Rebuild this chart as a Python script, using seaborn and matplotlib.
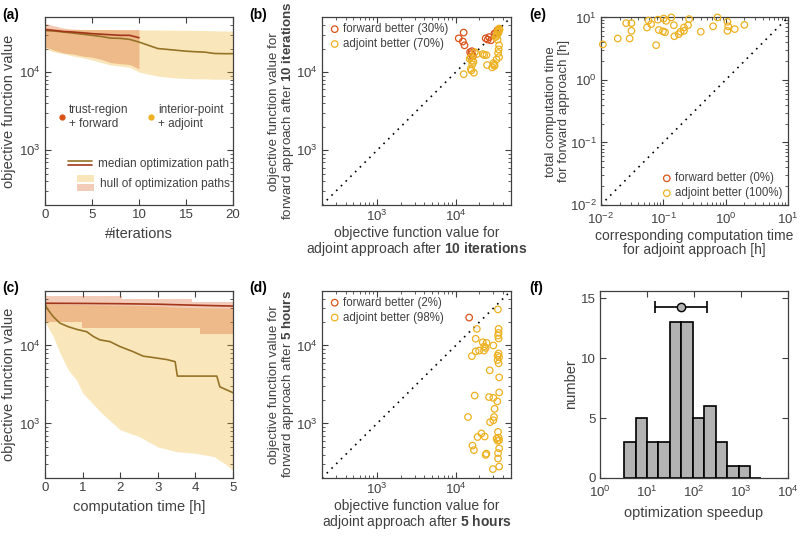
import numpy as np
import pandas as pd
import matplotlib
matplotlib.use("Agg")
import matplotlib.pyplot as plt
import seaborn as sns
from matplotlib.lines import Line2D
from matplotlib.patches import Patch, Rectangle
from matplotlib.legend_handler import HandlerBase
from matplotlib.ticker import NullLocator

sns.set_theme(style="ticks")
plt.rcParams['font.family'] = ['Liberation Sans', 'DejaVu Sans']
plt.rcParams['mathtext.fontset'] = 'custom'
plt.rcParams['mathtext.rm'] = 'Liberation Sans'
plt.rcParams['mathtext.it'] = 'Liberation Sans:italic'
plt.rcParams['mathtext.bf'] = 'Liberation Sans:bold'
GREY = '#404040'
plt.rcParams['text.color'] = GREY
plt.rcParams['axes.labelcolor'] = GREY

FWD = '#D95319'
ADJ = '#EDB120'
FWD_DARK = '#A3361A'
ADJ_DARK = '#957226'

# --- (a) optimisation paths vs iterations ---
iters_adj = list(range(21))
adj_median_it = [34000, 33500, 32500, 31500, 30500, 29500, 28500, 27200, 27000, 26200, 24200,
                 22000, 20000, 19500, 19000, 18500, 18200, 18000, 17300, 17200, 17200]
adj_hull_hi_it = [37000, 36000, 35000, 35000, 35000, 35000, 35000, 35000, 34800, 34800, 34600,
                  34500, 34500, 34400, 34300, 34200, 34000, 34000, 33800, 33500, 33500]
adj_hull_lo_it = [20000, 18000, 17200, 16000, 15200, 14300, 13200, 12300, 11900, 11500, 10000,
                  9400, 8900, 8600, 8400, 8300, 8200, 8200, 8100, 8100, 8100]
iters_fwd = list(range(11))
fwd_median_it = [35000, 34000, 33000, 32500, 31800, 31000, 30500, 30000, 29500, 29500, 27500]
fwd_hull_hi_it = [42000, 39000, 36500, 35500, 35000, 35000, 35000, 35000, 35000, 35000, 35000]
fwd_hull_lo_it = [21000, 19000, 17500, 17000, 16000, 15500, 14500, 13200, 12800, 12500, 11000]

# --- (c) optimisation paths vs computation time ---
t_adj_med = [0, 0.05, 0.22, 0.40, 0.62, 0.84, 1.11, 1.29, 1.46, 1.73, 1.99, 2.35, 2.61, 2.88,
             3.24, 3.46, 3.52, 4.57, 4.65, 5.0]
adj_median_t = [34800, 30000, 23400, 19300, 17400, 16100, 15000, 13000, 11800, 11200, 9700, 8300,
                7300, 7000, 6600, 6200, 4050, 4050, 2950, 2480]
t_adj_hull = [0, 0.02, 0.1, 0.22, 0.4, 0.62, 0.84, 1.0, 1.5, 2.0, 2.5, 3.0, 3.5, 4.0, 4.5, 4.8, 5.0]
adj_hull_hi_t = [34500, 34500, 34400, 34200, 34000, 33800, 33600, 33400, 33200, 33000, 32500, 32000,
                 31000, 30500, 30200, 30000, 30000]
adj_hull_lo_t = [20000, 19500, 16500, 13000, 8000, 4850, 3600, 2470, 1370, 830, 680, 500, 435, 415,
                 375, 300, 250]
t_fwd_hull = [0, 0.98, 0.98, 2.05, 2.05, 3.9, 3.9, 4.12, 4.12, 5.0]
fwd_hull_hi_t = [43000, 43000, 43000, 43000, 39000, 39000, 36000, 36000, 36000, 36000]
fwd_hull_lo_t = [20200, 20200, 16600, 16600, 16600, 16600, 16600, 16600, 13900, 13900]
t_fwd_med = [0, 1, 2, 3, 4, 5]
fwd_median_t = [34800, 34600, 34300, 33800, 32800, 32000]

# --- (b) after 10 iterations: x = adjoint, y = forward ---
b_fwd_x = [12600, 10900, 12300, 12900, 15200, 15800, 16500, 16000, 24000, 25500, 26500, 28000,
           31000, 32500, 34000]
b_fwd_y = [32000, 27000, 24600, 22000, 18000, 17000, 16000, 18500, 27000, 26000, 28000, 25500,
           31000, 32000, 34500]
b_adj_x = [34500, 35000, 33500, 32000, 34000, 35500, 35000, 34500, 35500, 33000, 31000, 24500,
           25000, 15500, 16200, 15800, 17000, 12600, 15000, 23000, 22000, 30000, 31000, 29000,
           36000, 35500, 34000, 33000, 17500, 18500, 16000, 16800, 15500]
b_adj_y = [34000, 32000, 30000, 28000, 26000, 22000, 19500, 17500, 15500, 14500, 12500, 16500,
           12300, 15500, 12500, 10500, 9800, 9400, 14800, 16500, 17000, 13000, 12000, 11500,
           35000, 36000, 33000, 29000, 18000, 17000, 14000, 13500, 11000]
b_labels = ['forward better (30%)', 'adjoint better (70%)']

# --- (d) after 5 hours ---
d_fwd_x = [14800]
d_fwd_y = [22800]
d_adj_x = [34300, 18500, 17900, 35000, 35000, 34500, 35000, 24600, 24000, 30000, 19800, 17900,
           16000, 22800, 34000, 35000, 35500, 34000, 35000, 27000, 35600, 17400, 26500, 30000,
           33700, 35600, 31100, 14300, 30600, 27300, 30000, 34400, 21200, 18900, 23300, 33000,
           35000, 34000, 35500, 16300, 17000, 35600, 34400, 34400, 24500, 24000, 35600, 29600,
           22000, 23000]
d_adj_y = [29000, 16300, 12200, 16300, 14500, 13400, 12300, 10800, 9300, 10000, 8600, 8400,
           7300, 8600, 7400, 7900, 7100, 6500, 5900, 4800, 3900, 2280, 2180, 2130, 1920, 2500,
           1540, 1210, 1210, 1040, 1100, 780, 745, 670, 680, 640, 660, 600, 610, 520, 455, 480,
           417, 355, 410, 395, 280, 260, 11000, 9700]
d_labels = ['forward better (2%)', 'adjoint better (98%)']

# --- (e) computation times ---
e_fwd_x = []
e_fwd_y = []
e_adj_x = [0.0108, 0.0187, 0.029, 0.0255, 0.031, 0.031, 0.055, 0.058, 0.064, 0.082, 0.102, 0.112,
           0.135, 0.085, 0.099, 0.077, 0.148, 0.151, 0.177, 0.19, 0.215, 0.215, 0.25, 0.26, 0.40,
           0.63, 0.74, 1.07, 1.1, 1.07, 1.4, 2.0, 0.107]
e_adj_y = [3.7, 4.6, 4.6, 8.1, 8.1, 6.1, 6.9, 8.9, 7.8, 9.2, 9.6, 8.8, 10.0, 6.3, 6.0, 3.6, 7.5,
           5.0, 5.4, 5.9, 6.1, 6.9, 7.5, 9.4, 5.9, 7.2, 10.0, 8.5, 7.2, 6.1, 6.5, 7.6, 5.8]
e_labels = ['forward better (0%)', 'adjoint better (100%)']

# --- (f) speedup histogram ---
speedup_edges = [3.3, 5.8, 10, 17.5, 30.5, 53.5, 94, 165, 290, 505, 885, 1550, 2700]
speedup_counts = [3, 5, 3, 3, 13, 13, 5, 6, 3, 1, 1, 0]
speedup_median = 52
speedup_lo = 14.7
speedup_hi = 190
speedup_marker_y = 14.3

OBJ_LIM = [2e2, 5e4]
TIME_LIM = [1e-2, 1e1]


class HandlerStack(HandlerBase):
    # draws the handles of a tuple on top of each other
    def create_artists(self, legend, orig_handle, xdescent, ydescent, width, height, fontsize, trans):
        out = []
        n = len(orig_handle)
        gap = 0.15 * height
        h_each = (height - gap * (n - 1)) / n
        for i, h in enumerate(orig_handle):
            y0 = -ydescent + height - (i + 1) * h_each - i * gap
            if isinstance(h, Line2D):
                art = Line2D([-xdescent, -xdescent + width], [y0 + h_each / 2] * 2,
                             color=h.get_color(), lw=h.get_linewidth())
            else:
                art = Rectangle((-xdescent, y0), width, h_each, facecolor=h.get_facecolor(),
                                edgecolor='none')
            art.set_transform(trans)
            out.append(art)
        return out


def style_axis(ax):
    ax.tick_params(which='both', direction='in', top=True, right=True, colors=GREY, labelsize=9.5, pad=3)
    ax.tick_params(which='major', length=4, width=0.8)
    ax.tick_params(which='minor', length=2, width=0.6)
    for sp in ax.spines.values():
        sp.set_color(GREY)
        sp.set_linewidth(0.9)


def two_line_labels(ax, xlab, ylab):
    ax.set_xlabel(xlab, fontsize=10, linespacing=1.05, labelpad=1)
    ax.set_ylabel(ylab, fontsize=9.6, linespacing=1.05, labelpad=0)


def scatter_panel(ax, fx, fy, ax_x, ax_y, labels, lims, loc):
    ax.set_xscale('log')
    ax.set_yscale('log')
    ax.plot(lims, lims, color='black', lw=1.2, ls=(0, (1, 3)))
    for xs, ys, col, lab in [(fx, fy, FWD, labels[0]), (ax_x, ax_y, ADJ, labels[1])]:
        if len(xs):
            sns.scatterplot(x=xs, y=ys, ax=ax, facecolor='none', edgecolor=col, linewidth=0.9,
                            s=22, label=lab, clip_on=False, zorder=3)
        else:
            ax.scatter([], [], facecolor='none', edgecolor=col, linewidth=0.9, s=22, label=lab)
    ax.set_xlim(lims)
    ax.set_ylim(lims)
    ax.legend(loc=loc, frameon=False, fontsize=8.3, handletextpad=0.1, borderpad=0.3,
              borderaxespad=0.2, labelspacing=0.25, handlelength=1.2)
    style_axis(ax)


fig = plt.figure(figsize=(8, 5.39), dpi=100)
top_b, bot_b = 0.6197, 0.1132
h = 0.348
ax_a = fig.add_axes([0.05625, top_b, 0.235, h])
ax_b = fig.add_axes([0.4025, top_b, 0.236, h])
ax_e = fig.add_axes([0.751, top_b, 0.234, h])
ax_c = fig.add_axes([0.05625, bot_b, 0.235, 0.347])
ax_d = fig.add_axes([0.4025, bot_b, 0.236, 0.347])
ax_f = fig.add_axes([0.75, bot_b, 0.235, 0.347])

# (a)
ax = ax_a
ax.set_yscale('log')
ax.fill_between(iters_adj, adj_hull_lo_it, adj_hull_hi_it, color=ADJ, alpha=0.3, lw=0)
ax.fill_between(iters_fwd, fwd_hull_lo_it, fwd_hull_hi_it, color=FWD, alpha=0.3, lw=0)
sns.lineplot(x=iters_adj, y=adj_median_it, ax=ax, color=ADJ_DARK, lw=1.2, estimator=None, sort=False)
sns.lineplot(x=iters_fwd, y=fwd_median_it, ax=ax, color=FWD_DARK, lw=1.2, estimator=None, sort=False)
ax.set_xlim(0, 20)
ax.set_ylim(OBJ_LIM)
ax.set_xticks([0, 5, 10, 15, 20])
ax.set_xlabel('#iterations', fontsize=10.5)
ax.set_ylabel('objective function value', fontsize=10.5, labelpad=2)
style_axis(ax)

dot_f = Line2D([], [], marker='o', ls='none', color=FWD, markersize=3.5)
dot_a = Line2D([], [], marker='o', ls='none', color=ADJ, markersize=3.5)
leg1 = ax.legend([dot_f, dot_a], ['trust-region\n+ forward', 'interior-point\n+ adjoint'],
                 ncol=2, loc='center left', bbox_to_anchor=(0.07, 0.47), frameon=False,
                 fontsize=8.5, handlelength=0.6, handletextpad=0.3, columnspacing=1.6,
                 borderpad=0, borderaxespad=0)
ax.add_artist(leg1)
med_handle = (Line2D([], [], color=ADJ_DARK, lw=1.2), Line2D([], [], color=FWD_DARK, lw=1.2))
leg2 = ax.legend([med_handle], ['median optimization path'], handler_map={tuple: HandlerStack()},
                 loc='center left', bbox_to_anchor=(0.124, 0.218), frameon=False, fontsize=8.5,
                 handlelength=2.0, handleheight=0.6, handletextpad=0.5, borderpad=0, borderaxespad=0)
ax.add_artist(leg2)
hull_handle = (Patch(facecolor=ADJ, alpha=0.3), Patch(facecolor=FWD, alpha=0.3))
ax.legend([hull_handle], ['hull of optimization paths'], handler_map={tuple: HandlerStack()},
          loc='center left', bbox_to_anchor=(0.172, 0.117), frameon=False, fontsize=8.5,
          handlelength=1.4, handleheight=1.8, handletextpad=0.5, borderpad=0, borderaxespad=0)

# (c)
ax = ax_c
ax.set_yscale('log')
ax.fill_between(t_adj_hull, adj_hull_lo_t, adj_hull_hi_t, color=ADJ, alpha=0.3, lw=0)
ax.fill_between(t_fwd_hull, fwd_hull_lo_t, fwd_hull_hi_t, color=FWD, alpha=0.3, lw=0)
sns.lineplot(x=t_adj_med, y=adj_median_t, ax=ax, color=ADJ_DARK, lw=1.2, estimator=None, sort=False)
sns.lineplot(x=t_fwd_med, y=fwd_median_t, ax=ax, color=FWD_DARK, lw=1.2, estimator=None, sort=False)
ax.set_xlim(0, 5)
ax.set_ylim(OBJ_LIM)
ax.set_xticks([0, 1, 2, 3, 4, 5])
ax.set_xlabel('computation time [h]', fontsize=10.5)
ax.set_ylabel('objective function value', fontsize=10.5, labelpad=2)
style_axis(ax)

# (b)
scatter_panel(ax_b, b_fwd_x, b_fwd_y, b_adj_x, b_adj_y, b_labels, OBJ_LIM, 'upper left')
two_line_labels(ax_b, 'objective function value for\nadjoint approach after $\\bf{10\\ iterations}$',
                'objective function value for\nforward approach after $\\bf{10\\ iterations}$')

# (d)
scatter_panel(ax_d, d_fwd_x, d_fwd_y, d_adj_x, d_adj_y, d_labels, OBJ_LIM, 'upper left')
two_line_labels(ax_d, 'objective function value for\nadjoint approach after $\\bf{5\\ hours}$',
                'objective function value for\nforward approach after $\\bf{5\\ hours}$')

# (e)
scatter_panel(ax_e, e_fwd_x, e_fwd_y, e_adj_x, e_adj_y, e_labels, TIME_LIM, 'lower right')
two_line_labels(ax_e, 'corresponding computation time\nfor adjoint approach [h]',
                'total computation time\nfor forward approach [h]')
ax_e.tick_params(axis='x', pad=5)

# (f)
ax = ax_f
hist_df = pd.DataFrame({
    'speedup': np.sqrt(np.array(speedup_edges[:-1]) * np.array(speedup_edges[1:])),
    'count': speedup_counts,
})
log_edges = [float(v) for v in np.log10(speedup_edges)]
sns.histplot(data=hist_df, x='speedup', weights='count', bins=log_edges,
             log_scale=True, ax=ax, color='#B3B3B3', edgecolor='black', linewidth=1.2, alpha=1)
ax.errorbar([speedup_median], [speedup_marker_y],
            xerr=[[speedup_median - speedup_lo], [speedup_hi - speedup_median]],
            fmt='o', color='black', mfc='#B3B3B3', mec='black', ms=6, capsize=4, lw=1.2, capthick=1.2)
ax.set_xlim(1, 1e4)
ax.set_ylim(0, 15.6)
ax.set_xticks([1, 10, 100, 1000, 10000])
ax.xaxis.set_minor_locator(NullLocator())
ax.set_yticks([0, 5, 10, 15])
ax.set_xlabel('optimization speedup', fontsize=10.5)
ax.set_ylabel('number', fontsize=10.5, labelpad=2)
style_axis(ax)
ax.tick_params(axis='x', pad=5)

for lab, x, y in [('(a)', 0.003, 0.985), ('(b)', 0.312, 0.985), ('(e)', 0.662, 0.985),
                  ('(c)', 0.003, 0.478), ('(d)', 0.312, 0.478), ('(f)', 0.662, 0.478)]:
    fig.text(x, y, lab, fontsize=10, fontweight='bold', color='black', va='top', ha='left')

fig.savefig('out.png', dpi=100)
